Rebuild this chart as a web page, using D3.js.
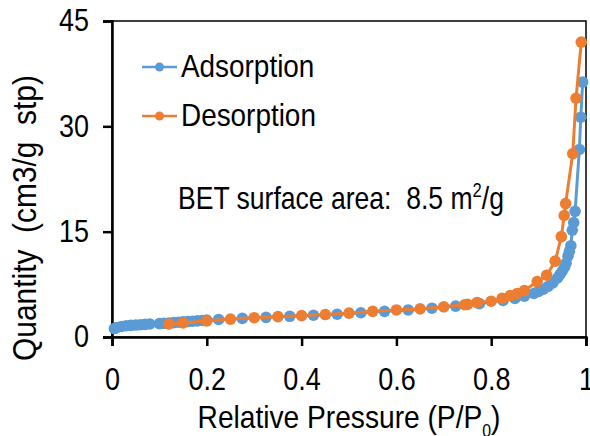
<!DOCTYPE html>
<html>
  <head>
    <script src="https://d3js.org/d3.v7.min.js"></script>
    <style>
      body { margin: 0; background-color: white; }
      text { font-family: 'Liberation Sans', Arial, sans-serif; fill: black; white-space: pre; }
    </style>
  </head>
  <body>
    <svg id="canvas" width="590" height="436"></svg>
    <script>
      // adsorption branch, P/P0 vs quantity (cm3/g stp)
      const adsP = [0.005, 0.01, 0.02, 0.03, 0.04, 0.05, 0.06, 0.07, 0.08, 0.1, 0.11, 0.12, 0.13, 0.14,
        0.15, 0.16, 0.17, 0.18, 0.19, 0.2, 0.225, 0.275, 0.325, 0.375, 0.425, 0.475, 0.525, 0.575,
        0.625, 0.675, 0.725, 0.775, 0.825, 0.85, 0.87, 0.89, 0.9, 0.91, 0.92, 0.93, 0.94, 0.945,
        0.95, 0.955, 0.958, 0.962, 0.965, 0.968, 0.971, 0.974, 0.977, 0.986, 0.989, 0.993]
      const adsQ = [1.2, 1.35, 1.5, 1.6, 1.65, 1.7, 1.75, 1.8, 1.85, 1.9, 1.95, 2.0, 2.05, 2.1,
        2.15, 2.2, 2.25, 2.3, 2.35, 2.4, 2.5, 2.65, 2.8, 2.95, 3.1, 3.25, 3.45, 3.65,
        3.85, 4.1, 4.4, 4.75, 5.2, 5.5, 5.8, 6.2, 6.5, 6.8, 7.2, 7.7, 8.4, 8.9,
        9.4, 10.0, 10.5, 11.5, 12.2, 13.0, 15.2, 16.3, 17.9, 26.7, 31.3, 36.3]
      // desorption branch
      const desP = [0.99, 0.979, 0.972, 0.957, 0.954, 0.948, 0.935, 0.917, 0.897, 0.87, 0.855, 0.84,
        0.823, 0.8, 0.77, 0.75, 0.744, 0.7, 0.65, 0.6, 0.55, 0.5, 0.45, 0.4, 0.35, 0.3, 0.25, 0.2, 0.15, 0.12]
      const desQ = [42.0, 34.0, 26.1, 19.0, 17.3, 14.3, 10.8, 8.8, 7.9, 6.6, 6.2, 5.9,
        5.5, 5.1, 4.9, 4.65, 4.6, 4.3, 4.0, 3.85, 3.65, 3.4, 3.2, 3.05, 2.9, 2.75, 2.55, 2.3, 2.0, 1.85]

      const xTicks = [0, 0.2, 0.4, 0.6, 0.8, 1]
      const yTicks = [0, 15, 30, 45]

      const series = [
        { name: 'Adsorption', color: '#5B9BD5', p: adsP, q: adsQ },
        { name: 'Desorption', color: '#ED7D31', p: desP, q: desQ }
      ]

      // the original text is a narrow face, squeeze a regular one
      const squeeze = 0.87

      let margin = { top: 21, right: 4, bottom: 99, left: 112 }
      let svg = d3.select('#canvas')
      let width = +svg.attr('width') - margin.left - margin.right
      let height = +svg.attr('height') - margin.top - margin.bottom
      let g = svg.append('g').attr('transform', `translate(${margin.left}, ${margin.top})`)

      let x = d3.scaleLinear().domain([0, 1]).range([0, width])
      let y = d3.scaleLinear().domain([0, 45]).range([height, 0])

      // frame
      g.append('rect')
        .attr('width', width)
        .attr('height', height)
        .attr('fill', 'none')
        .attr('stroke', 'black')
        .attr('stroke-width', 1.5)

      let xAxis = g.append('g')
        .attr('transform', `translate(0, ${height})`)
        .call(d3.axisBottom(x).tickValues(xTicks).tickFormat(d3.format('')).tickSize(9).tickPadding(15))
      let yAxis = g.append('g')
        .call(d3.axisLeft(y).tickValues(yTicks).tickSize(9).tickPadding(14))

      for (let a of [xAxis, yAxis]) {
        a.select('.domain').attr('stroke-width', 2.5)
        a.selectAll('.tick line').attr('stroke-width', 2.5)
        a.selectAll('.tick text')
          .attr('font-size', 31)
          .attr('font-family', null)
          .attr('transform', `scale(${squeeze}, 1)`)
      }
      xAxis.selectAll('.tick text').attr('dy', '0.95em')
      yAxis.selectAll('.tick text').attr('x', -23 / squeeze)

      const line = d3.line().x(d => x(d[0])).y(d => y(d[1]))

      series.forEach(s => {
        let pts = s.p.map((p, i) => [p, s.q[i]])
        g.append('path')
          .datum(pts)
          .attr('fill', 'none')
          .attr('stroke', s.color)
          .attr('stroke-width', 3)
          .attr('d', line)
        g.selectAll(null).data(pts)
          .enter()
          .append('circle')
            .attr('cx', d => x(d[0]))
            .attr('cy', d => y(d[1]))
            .attr('r', 5.8)
            .attr('fill', s.color)
      })

      const placeText = (tx, ty, size, sx) => svg.append('text')
        .attr('transform', `translate(${tx}, ${ty}) scale(${sx}, 1)`)
        .attr('font-size', size)

      // legend
      let legend = svg.append('g')
      series.forEach((s, i) => {
        let ly = 67 + i * 49
        legend.append('line')
          .attr('x1', 142).attr('x2', 177)
          .attr('y1', ly).attr('y2', ly)
          .attr('stroke', s.color)
          .attr('stroke-width', 2.5)
        legend.append('circle')
          .attr('cx', 159.5).attr('cy', ly)
          .attr('r', 4.5)
          .attr('fill', s.color)
        placeText(181, ly + 10, 31, 0.9).text(s.name)
      })

      // annotation
      let bet = placeText(178, 209, 32, 0.83)
      bet.append('tspan').text('BET surface area:  8.5 m')
      bet.append('tspan').attr('font-size', 20).attr('dy', -12).text('2')
      bet.append('tspan').attr('dy', 12).text('/g')

      // axis titles
      let xl = placeText(margin.left + width / 2, 428, 32, 0.88)
        .attr('text-anchor', 'middle')
      xl.append('tspan').text('Relative Pressure (P/P')
      xl.append('tspan').attr('font-size', 18).attr('dy', 9).text('0')
      xl.append('tspan').attr('dy', -9).text(')')

      svg.append('text')
        .attr('transform', `translate(36, 218) rotate(-90) scale(0.88, 1)`)
        .attr('text-anchor', 'middle')
        .attr('font-size', 34)
        .text('Quantity  (cm3/g  stp)')
    </script>
  </body>
</html>
